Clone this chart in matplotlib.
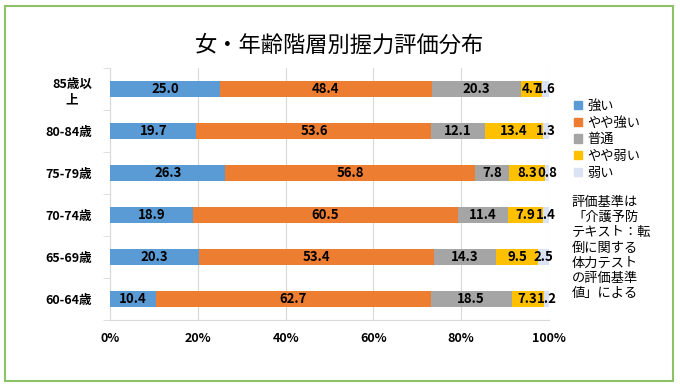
import numpy as np
import matplotlib
matplotlib.use('Agg')
import matplotlib.pyplot as plt
from matplotlib.patches import Rectangle

plt.rcParams['font.family'] = ['Noto Sans CJK JP', 'DejaVu Sans']

# データ(上から下の順)
categories = ['85歳以\n上', '80-84歳', '75-79歳', '70-74歳', '65-69歳', '60-64歳']
series_names = ['強い', 'やや強い', '普通', 'やや弱い', '弱い']
strong = [25.0, 19.7, 26.3, 18.9, 20.3, 10.4]
fairly_strong = [48.4, 53.6, 56.8, 60.5, 53.4, 62.7]
normal = [20.3, 12.1, 7.8, 11.4, 14.3, 18.5]
fairly_weak = [4.7, 13.4, 8.3, 7.9, 9.5, 7.3]
weak = [1.6, 1.3, 0.8, 1.4, 2.5, 1.2]
xticks = [0, 20, 40, 60, 80, 100]
xtick_labels = ['0%', '20%', '40%', '60%', '80%', '100%']
note = '評価基準は\n「介護予防\nテキスト：転\n倒に関する\n体力テスト\nの評価基準\n値」による'

colors = ['#5B9BD5', '#ED7D31', '#A5A5A5', '#FFC000', '#DAE3F3']

fig = plt.figure(figsize=(6.8, 3.88), dpi=100)
ax = fig.add_axes([110/680, 1-320/388, 439/680, 252/388])

raw_values = [strong, fairly_strong, normal, fairly_weak, weak]
values = np.array(raw_values)
values = values / values.sum(axis=0) * 100  # 100%積み上げ
y = np.arange(len(categories))[::-1]
left = np.zeros(len(categories))
for i, name in enumerate(series_names):
    ax.barh(y, values[i], left=left, height=0.4, color=colors[i],
            label=name, zorder=3)
    for j in range(len(categories)):
        ax.text(left[j] + values[i][j] / 2, y[j], f'{raw_values[i][j]:.1f}',
                ha='center', va='center', fontsize=9.5, fontweight='bold',
                color='#000000', zorder=4)
    left += values[i]

ax.set_xlim(0, 100)
ax.set_ylim(-0.5, len(categories) - 0.5)
ax.set_xticks(xticks)
ax.set_xticklabels(xtick_labels, fontsize=9, fontweight='bold')
ax.set_yticks(y)
ax.set_yticklabels(categories, fontsize=9, fontweight='bold', linespacing=1.3,
                   multialignment='center')
ax.set_yticks(np.arange(-0.5, len(categories)), minor=True)
ax.tick_params(axis='x', length=0, pad=9)
ax.tick_params(axis='y', which='major', length=0, pad=13)
ax.tick_params(axis='y', which='minor', length=5, color='#D9D9D9')
ax.grid(axis='x', color='#D9D9D9', linewidth=0.8, zorder=0)
for s in ['top', 'right']:
    ax.spines[s].set_visible(False)
ax.spines['left'].set_color('#D9D9D9')
ax.spines['bottom'].set_color('#D9D9D9')

# 凡例
handles = [Rectangle((0, 0), 1, 1, color=c) for c in colors]
fig.legend(handles, series_names, loc='upper left', bbox_to_anchor=(562/680, 1-88/388),
           frameon=False, fontsize=9.5, handlelength=0.6, handleheight=0.6,
           handletextpad=0.4, labelspacing=0.28)

fig.text(572/680, 1-196/388, note, fontsize=9.5, va='top', ha='left', linespacing=1.22)

fig.text(340/680, 1-45/388, '女・年齢階層別握力評価分布', fontsize=16,
         ha='center', va='center')

# 外枠
fig.patches.append(Rectangle((5/680, 7/388), 668/680, 375/388, transform=fig.transFigure,
                             fill=False, edgecolor='#8CC168', linewidth=1.5))

plt.savefig('out.png', dpi=100)
